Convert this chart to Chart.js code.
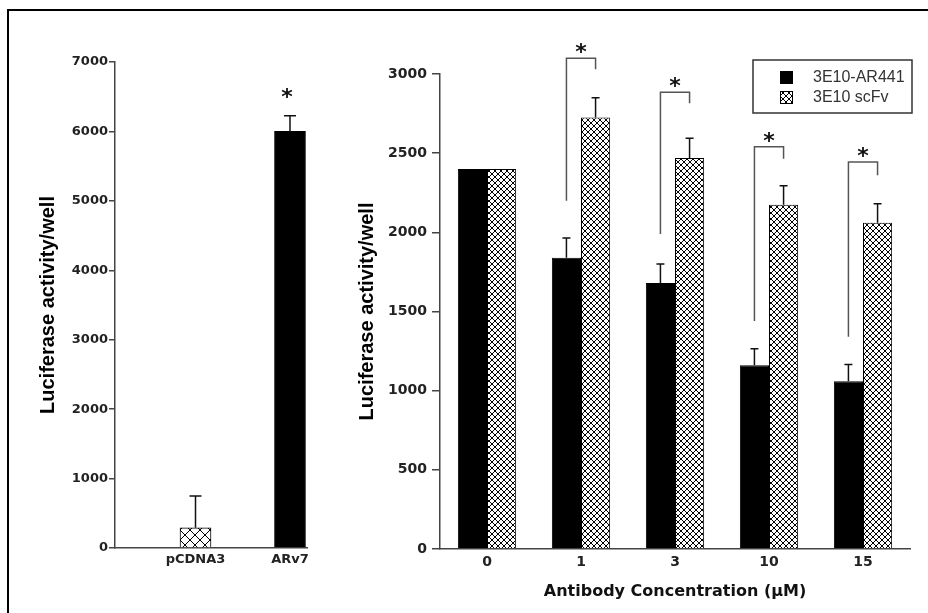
<!DOCTYPE html>
<html>
<head>
<meta charset="utf-8">
<title>Luciferase activity</title>
<script src="https://cdn.jsdelivr.net/npm/chart.js@4.4.1/dist/chart.umd.min.js"></script>
<style>
  html, body { margin: 0; padding: 0; width: 928px; height: 613px; overflow: hidden; background: #fff; }
  #frame { position: absolute; left: 7px; top: 9px; width: 960px; height: 640px; border-left: 2px solid #000; border-top: 2px solid #000; }
  #leftChart { position: absolute; left: 0; top: 0; }
  #rightChart { position: absolute; left: 330px; top: 0; }
</style>
</head>
<body>
<div id="frame"></div>
<canvas id="leftChart" width="330" height="613"></canvas>
<canvas id="rightChart" width="598" height="613"></canvas>
<script>
// Data - left panel
const leftLabels = ['pCDNA3', 'ARv7'];
const leftValues = [290, 6000];
const leftErrors = [460, 225];
const leftStars = ['', '*'];

// Data - right panel
const doses = ['0', '1', '3', '10', '15'];
const ar441Values = [2400, 1840, 1680, 1160, 1060];
const ar441Errors = [0, 125, 120, 105, 105];
const scfvValues = [2400, 2725, 2470, 2175, 2060];
const scfvErrors = [0, 125, 125, 120, 120];

// significance brackets (in y-axis units)
const bracketTop = [null, 3100, 2885, 2540, 2445];
const bracketLeftEnd = [null, 2200, 1990, 1440, 1340];
const bracketRightEnd = [null, 3030, 2815, 2465, 2360];

const tickFont = { family: 'DejaVu Sans', weight: 'bold', size: 14 };
const titleFont = { family: 'Liberation Sans', weight: 'bold', size: 20 };
const axisColor = '#444';
const plainNumber = (v) => String(v);

// crosshatch fill
function makeHatch(size) {
  const c = document.createElement('canvas');
  c.width = size;
  c.height = size;
  const g = c.getContext('2d');
  g.fillStyle = '#fff';
  g.fillRect(0, 0, size, size);
  g.strokeStyle = '#000';
  g.lineWidth = 1;
  g.beginPath();
  g.moveTo(0, 0); g.lineTo(size, size);
  g.moveTo(size, 0); g.lineTo(0, size);
  g.stroke();
  return g.createPattern(c, 'repeat');
}

// Error bars (upper only)
const errorBars = {
  id: 'errorBars',
  afterDatasetsDraw(chart, args, opts) {
    const ctx = chart.ctx;
    const yScale = chart.scales.y;
    chart.data.datasets.forEach((ds, di) => {
      if (!ds.errors) return;
      chart.getDatasetMeta(di).data.forEach((bar, i) => {
        const err = ds.errors[i];
        if (!err) return;
        const raw = ds.data[i];
        const v = typeof raw === 'object' ? raw.y : raw;
        const yEnd = yScale.getPixelForValue(v + err);
        ctx.save();
        ctx.strokeStyle = '#111';
        ctx.lineWidth = 1.5;
        ctx.beginPath();
        ctx.moveTo(bar.x, bar.y);
        ctx.lineTo(bar.x, yEnd);
        ctx.moveTo(bar.x - opts.cap / 2, yEnd);
        ctx.lineTo(bar.x + opts.cap / 2, yEnd);
        ctx.stroke();
        ctx.restore();
      });
    });
  }
};

function drawStar(ctx, x, yCenter) {
  ctx.save();
  ctx.fillStyle = '#111';
  ctx.font = 'bold 22px "DejaVu Sans"';
  ctx.textAlign = 'center';
  ctx.textBaseline = 'alphabetic';
  ctx.fillText('*', x, yCenter + 12);
  ctx.restore();
}

// star over the ARv7 bar
const leftStarPlugin = {
  id: 'leftStarPlugin',
  afterDatasetsDraw(chart) {
    const yScale = chart.scales.y;
    chart.getDatasetMeta(0).data.forEach((bar, i) => {
      if (!leftStars[i]) return;
      const yErr = yScale.getPixelForValue(leftValues[i] + leftErrors[i]);
      drawStar(chart.ctx, bar.x - 3, yErr - 24);
    });
  }
};

// brackets + stars on the right panel
const bracketPlugin = {
  id: 'bracketPlugin',
  afterDatasetsDraw(chart) {
    const ctx = chart.ctx;
    const yScale = chart.scales.y;
    const a = chart.getDatasetMeta(0).data;
    const b = chart.getDatasetMeta(1).data;
    bracketTop.forEach((top, i) => {
      if (top == null) return;
      const x1 = a[i].x;
      const x2 = b[i].x;
      const yt = yScale.getPixelForValue(top);
      ctx.save();
      ctx.strokeStyle = '#555';
      ctx.lineWidth = 1.5;
      ctx.beginPath();
      ctx.moveTo(x1, yScale.getPixelForValue(bracketLeftEnd[i]));
      ctx.lineTo(x1, yt);
      ctx.lineTo(x2, yt);
      ctx.lineTo(x2, yScale.getPixelForValue(bracketRightEnd[i]));
      ctx.stroke();
      ctx.restore();
      drawStar(ctx, (x1 + x2) / 2, yt - 11);
    });
  }
};

// framed legend in the top right corner
const boxLegend = {
  id: 'boxLegend',
  afterDraw(chart) {
    const ctx = chart.ctx;
    const area = chart.chartArea;
    const left = area.right - 157;
    const top = area.top - 14;
    ctx.save();
    ctx.fillStyle = '#fff';
    ctx.fillRect(left, top, 159, 53);
    ctx.strokeStyle = '#333';
    ctx.lineWidth = 1.5;
    ctx.strokeRect(left, top, 159, 53);
    ctx.font = '16px "Liberation Sans"';
    ctx.textBaseline = 'middle';
    chart.data.datasets.forEach((ds, i) => {
      const y = top + 17 + i * 20;
      ctx.fillStyle = ds.backgroundColor;
      ctx.fillRect(left + 27, y - 6, 13, 13);
      ctx.strokeStyle = '#000';
      ctx.lineWidth = 1;
      ctx.strokeRect(left + 27.5, y - 5.5, 12, 12);
      ctx.fillStyle = '#333';
      ctx.fillText(ds.label, left + 60, y + 1);
    });
    ctx.restore();
  }
};

function initializeLeftChart() {
  const ctx = document.getElementById('leftChart').getContext('2d');
  new Chart(ctx, {
    type: 'bar',
    data: {
      datasets: [{
        data: leftValues.map((v, i) => ({ x: i + 1, y: v })),
        errors: leftErrors,
        backgroundColor: [makeHatch(10), '#000'],
        borderColor: '#000',
        borderWidth: 1,
        barThickness: 31
      }]
    },
    options: {
      responsive: false,
      animation: false,
      devicePixelRatio: 1,
      layout: { padding: { top: 62, right: 23, bottom: 35, left: 0 } },
      plugins: {
        legend: { display: false },
        tooltip: { enabled: false },
        errorBars: { cap: 12 }
      },
      scales: {
        x: {
          type: 'linear',
          offset: false,
          bounds: 'data',
          min: 0.148,
          max: 2.18,
          afterBuildTicks: (scale) => { scale.ticks = leftLabels.map((_, i) => ({ value: i + 1 })); },
          afterFit: (scale) => { scale.height = 30; },
          ticks: {
            autoSkip: false,
            callback: (value) => leftLabels[value - 1],
            font: { ...tickFont, size: 13 },
            color: '#222',
            padding: 4,
            maxRotation: 0
          },
          grid: { drawOnChartArea: false, drawTicks: false, offset: false },
          border: { color: axisColor, width: 1.5 }
        },
        y: {
          min: 0,
          max: 7000,
          afterFit: (scale) => { scale.width = 115; },
          ticks: { stepSize: 1000, callback: plainNumber, font: { ...tickFont, size: 13 }, color: '#222', padding: 1 },
          grid: { drawOnChartArea: false, tickLength: 6, color: axisColor, lineWidth: 1.5 },
          border: { color: axisColor, width: 1.5 },
          title: {
            display: true,
            text: 'Luciferase activity/well',
            font: titleFont,
            color: '#000',
            padding: { top: 36, bottom: 0 }
          }
        }
      }
    },
    plugins: [errorBars, leftStarPlugin]
  });
}

function initializeRightChart() {
  const ctx = document.getElementById('rightChart').getContext('2d');
  new Chart(ctx, {
    type: 'bar',
    data: {
      labels: doses,
      datasets: [
        {
          label: '3E10-AR441',
          data: ar441Values,
          errors: ar441Errors,
          backgroundColor: '#000',
          borderColor: '#000',
          borderWidth: 1
        },
        {
          label: '3E10 scFv',
          data: scfvValues,
          errors: scfvErrors,
          backgroundColor: makeHatch(6),
          borderColor: '#000',
          borderWidth: 1
        }
      ]
    },
    options: {
      responsive: false,
      animation: false,
      devicePixelRatio: 1,
      layout: { padding: { top: 74, right: 18, bottom: 9, left: 0 } },
      datasets: { bar: { categoryPercentage: 0.62, barPercentage: 1.0 } },
      plugins: {
        legend: { display: false },
        tooltip: { enabled: false },
        errorBars: { cap: 8 }
      },
      scales: {
        x: {
          afterFit: (scale) => { scale.height = 55; },
          ticks: { font: tickFont, color: '#222', padding: 5 },
          grid: { drawOnChartArea: false, drawTicks: false },
          border: { color: axisColor, width: 1.5 },
          title: {
            display: true,
            text: 'Antibody Concentration (\u00b5M)',
            font: { family: 'DejaVu Sans', weight: 'bold', size: 16 },
            color: '#111',
            padding: { top: 0, bottom: 3 }
          }
        },
        y: {
          min: 0,
          max: 3000,
          afterFit: (scale) => { scale.width = 110; },
          ticks: { stepSize: 500, callback: plainNumber, font: tickFont, color: '#222', padding: 5 },
          grid: { drawOnChartArea: false, tickLength: 8, color: axisColor, lineWidth: 1.5 },
          border: { color: axisColor, width: 1.5 },
          title: {
            display: true,
            text: 'Luciferase activity/well',
            font: titleFont,
            color: '#000',
            padding: { top: 25, bottom: 0 }
          }
        }
      }
    },
    plugins: [errorBars, bracketPlugin, boxLegend]
  });
}

document.addEventListener('DOMContentLoaded', () => {
  initializeLeftChart();
  initializeRightChart();
});
</script>
</body>
</html>
